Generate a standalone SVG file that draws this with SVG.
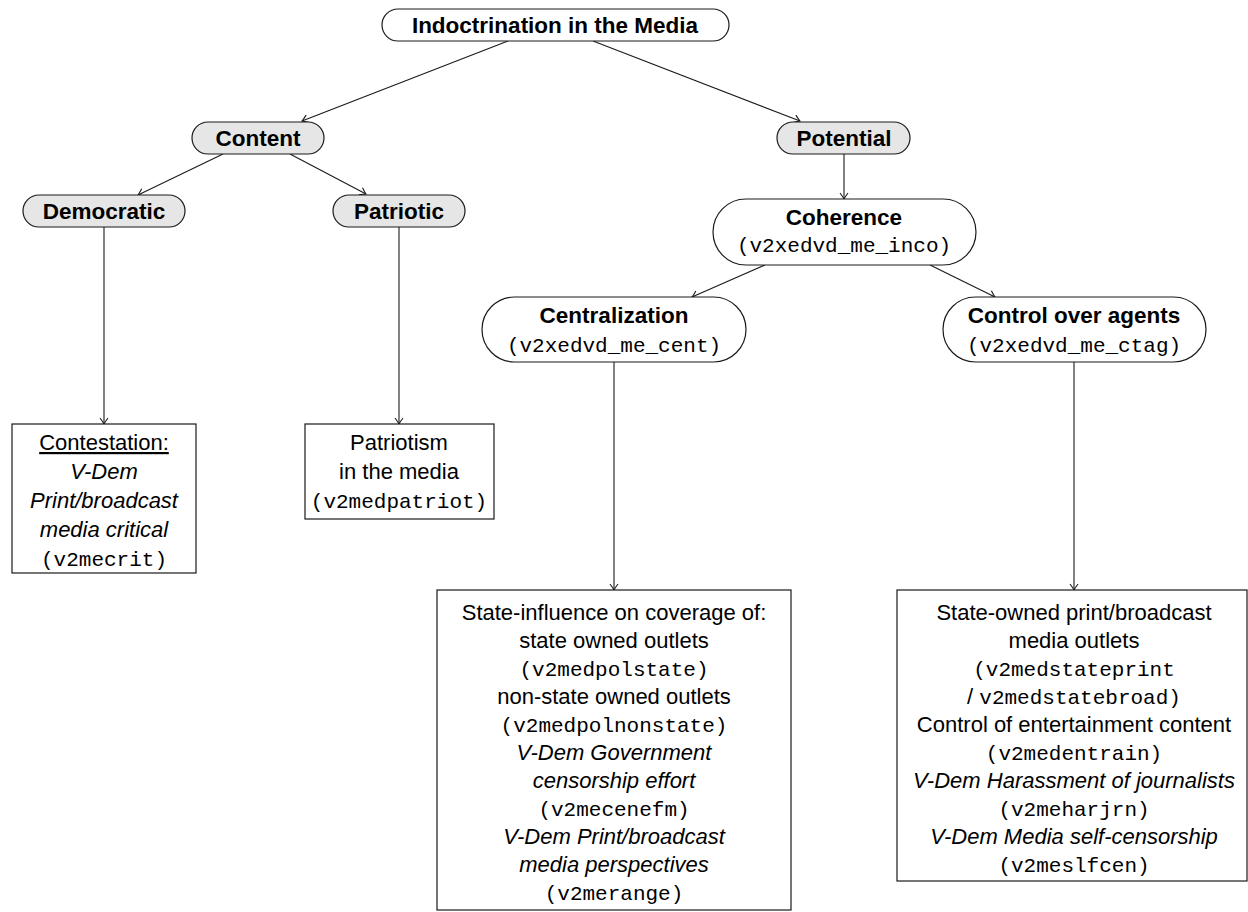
<svg xmlns="http://www.w3.org/2000/svg" width="1248" height="912" viewBox="0 0 1248 912">
<style>
.pill{fill:#ffffff;stroke:#1a1a1a;stroke-width:1.2}
.gray{fill:#e6e6e6}
.box{fill:#ffffff;stroke:#1a1a1a;stroke-width:1.2}
.edge{fill:none;stroke:#1a1a1a;stroke-width:1.1;marker-end:url(#arr)}
text{font-family:"Liberation Sans",Arial,sans-serif;font-size:22px;fill:#000;text-anchor:middle}
.b{font-weight:bold;font-size:22.5px}
.m{font-family:"Liberation Mono","Courier New",monospace;font-size:21px}
.i{font-style:italic}
</style>
<defs>
<marker id="arr" markerUnits="userSpaceOnUse" markerWidth="12" markerHeight="12" viewBox="-7 -6 8 12" refX="0" refY="0" orient="auto">
<path d="M -6 -4 Q -2 -1 0 0 Q -2 1 -6 4" fill="none" stroke="#1a1a1a" stroke-width="1.1"/>
</marker>
</defs>
<g id="connectors">
<line class="edge" x1="508" y1="41" x2="302" y2="121"/>
<line class="edge" x1="593" y1="41" x2="800" y2="121"/>
<line class="edge" x1="223" y1="154" x2="138" y2="195"/>
<line class="edge" x1="290" y1="154" x2="366" y2="194"/>
<line class="edge" x1="104" y1="227" x2="104" y2="424"/>
<line class="edge" x1="399" y1="227" x2="399" y2="424"/>
<line class="edge" x1="844" y1="154" x2="844" y2="199"/>
<line class="edge" x1="765" y1="265" x2="692" y2="297"/>
<line class="edge" x1="930" y1="265" x2="995" y2="297"/>
<line class="edge" x1="614" y1="362" x2="614" y2="590"/>
<line class="edge" x1="1074" y1="362" x2="1074" y2="590"/>
</g>
<g id="root">
<rect class="pill" x="382" y="9" width="347" height="32" rx="16"/>
<text class="b" x="555" y="33">Indoctrination in the Media</text>
</g>
<g id="content">
<rect class="pill gray" x="192" y="122" width="132" height="32" rx="16"/>
<text class="b" x="258" y="146">Content</text>
</g>
<g id="potential">
<rect class="pill gray" x="777" y="122" width="133" height="32" rx="16"/>
<text class="b" x="844" y="146">Potential</text>
</g>
<g id="democratic">
<rect class="pill gray" x="23" y="195" width="162" height="32" rx="16"/>
<text class="b" x="104" y="219">Democratic</text>
</g>
<g id="patriotic">
<rect class="pill gray" x="333" y="195" width="132" height="32" rx="16"/>
<text class="b" x="399" y="219">Patriotic</text>
</g>
<g id="coherence">
<rect class="pill" x="713" y="199" width="263" height="66" rx="33"/>
<text class="b" x="844" y="225">Coherence</text>
<text class="m" x="844" y="252">(v2xedvd_me_inco)</text>
</g>
<g id="centralization">
<rect class="pill" x="482" y="297" width="264" height="65" rx="32.5"/>
<text class="b" x="614" y="323">Centralization</text>
<text class="m" x="614" y="352">(v2xedvd_me_cent)</text>
</g>
<g id="control">
<rect class="pill" x="943" y="297" width="263" height="65" rx="32.5"/>
<text class="b" x="1074" y="323">Control over agents</text>
<text class="m" x="1074" y="352">(v2xedvd_me_ctag)</text>
</g>
<g id="contestation">
<rect class="box" x="12" y="424" width="184" height="149"/>
<text x="104" y="450" text-decoration="underline">Contestation:</text>
<text class="i" x="104" y="479">V-Dem</text>
<text class="i" x="104" y="508">Print/broadcast</text>
<text class="i" x="104" y="537">media critical</text>
<text class="m" x="104" y="566">(v2mecrit)</text>
</g>
<g id="patriotism">
<rect class="box" x="305" y="424" width="189" height="95"/>
<text x="399" y="450">Patriotism</text>
<text x="399" y="479">in the media</text>
<text class="m" x="399" y="508">(v2medpatriot)</text>
</g>
<g id="state-influence">
<rect class="box" x="437" y="590" width="354" height="320"/>
<text x="614" y="620">State-influence on coverage of:</text>
<text x="614" y="648">state owned outlets</text>
<text class="m" x="614" y="676">(v2medpolstate)</text>
<text x="614" y="704">non-state owned outlets</text>
<text class="m" x="614" y="732">(v2medpolnonstate)</text>
<text class="i" x="614" y="760">V-Dem Government</text>
<text class="i" x="614" y="788">censorship effort</text>
<text class="m" x="614" y="816">(v2mecenefm)</text>
<text class="i" x="614" y="844">V-Dem Print/broadcast</text>
<text class="i" x="614" y="872">media perspectives</text>
<text class="m" x="614" y="900">(v2merange)</text>
</g>
<g id="state-owned">
<rect class="box" x="897" y="590" width="350" height="291"/>
<text x="1074" y="620">State-owned print/broadcast</text>
<text x="1074" y="648">media outlets</text>
<text class="m" x="1074" y="676">(v2medstateprint</text>
<text x="1074" y="704"><tspan>/ </tspan><tspan class="m">v2medstatebroad)</tspan></text>
<text x="1074" y="732">Control of entertainment content</text>
<text class="m" x="1074" y="760">(v2medentrain)</text>
<text class="i" x="1074" y="788">V-Dem Harassment of journalists</text>
<text class="m" x="1074" y="816">(v2meharjrn)</text>
<text class="i" x="1074" y="844">V-Dem Media self-censorship</text>
<text class="m" x="1074" y="872">(v2meslfcen)</text>
</g>
</svg>
